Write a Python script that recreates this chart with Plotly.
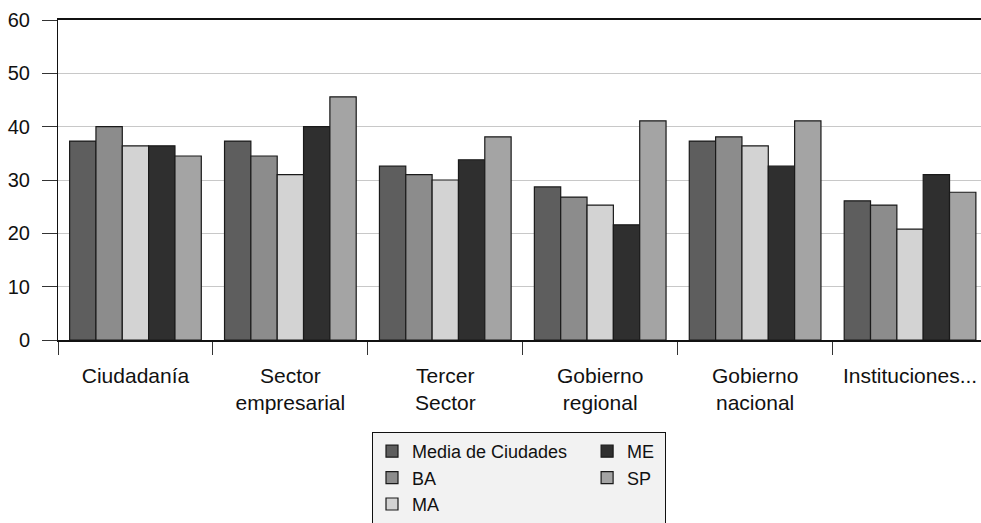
import plotly.graph_objects as go

categories = ["Ciudadanía", "Sector<br>empresarial", "Tercer<br>Sector", "Gobierno<br>regional", "Gobierno<br>nacional", "Instituciones..."]
series_names = ["Media de Ciudades", "BA", "MA", "ME", "SP"]
media = [37.3, 37.3, 32.6, 28.7, 37.3, 26.1]
ba = [40.0, 34.5, 31.0, 26.8, 38.1, 25.3]
ma = [36.4, 31.0, 30.0, 25.3, 36.4, 20.8]
me = [36.4, 40.0, 33.8, 21.6, 32.6, 31.0]
sp = [34.5, 45.6, 38.1, 41.1, 41.1, 27.7]
colors = ["#5e5e5e", "#8c8c8c", "#d3d3d3", "#2f2f2f", "#a4a4a4"]
legend_columns = ["c1", "c1", "c1", "c2", "c2"]
y_ticks = [0, 10, 20, 30, 40, 50, 60]

pad = "&nbsp;" * 3  # spacing between legend columns

fig = go.Figure()
for name, vals, col, grp in zip(series_names, [media, ba, ma, me, sp], colors, legend_columns):
    label = name + pad if grp == "c1" else name + "&nbsp;"
    fig.add_trace(go.Bar(
        x=categories, y=vals, name=label, legendgroup=grp,
        marker=dict(color=col, line=dict(color="#1a1a1a", width=1.2)),
    ))

W, H = 981, 523
left, top, bottom = 57.5, 20, 183
group_px = 155.0
plot_w = W - left
x_max = -0.5 + plot_w / group_px

fig.update_layout(
    width=W, height=H,
    margin=dict(l=left, r=0, t=top, b=bottom, pad=0),
    paper_bgcolor="white", plot_bgcolor="white",
    barmode="group", bargap=0.15, bargroupgap=0,
    font=dict(family="Liberation Sans, Arial, sans-serif", size=18, color="#111"),
    showlegend=True,
    legend=dict(
        orientation="h", xref="container", yref="container",
        x=372 / W, y=1 - 432 / H, xanchor="left", yanchor="top",
        bgcolor="#f2f2f2", bordercolor="#111", borderwidth=1,
        font=dict(size=18, color="#111"),
        traceorder="grouped", tracegroupgap=0,
    ),
    xaxis=dict(
        type="category", range=[-0.5, x_max],
        tickson="boundaries", ticks="outside", ticklen=13, tickcolor="#333", tickwidth=1,
        showline=True, linecolor="#111", linewidth=1.5, mirror=True,
        showgrid=False, tickfont=dict(size=21), ticklabelstandoff=16,
    ),
    yaxis=dict(
        range=[0, 60], tickvals=y_ticks, ticks="outside", ticklen=15, tickcolor="#333",
        showline=True, linecolor="#111", linewidth=1,
        showgrid=True, gridcolor="#c8c8c8", gridwidth=1,
        zeroline=False, tickfont=dict(size=20), ticklabelstandoff=8,
    ),
)

fig.write_html("out.html")
